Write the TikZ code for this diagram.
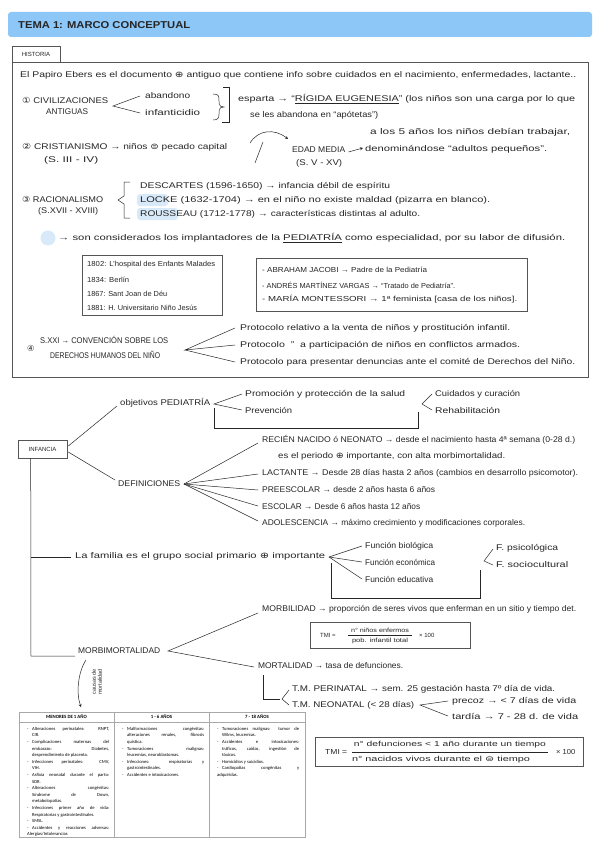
\documentclass[tikz,border=0pt]{standalone}
\usepackage{fontspec}
\usepackage{graphicx}
\setmainfont{Liberation Sans}
\newfontfamily\sym{DejaVu Sans}
\newfontfamily\tabfont{Carlito}
\usetikzlibrary{arrows.meta,calc}
\definecolor{titleblue}{HTML}{8DC7F7}
\definecolor{hl}{HTML}{D8EAFA}
\definecolor{boxgray}{HTML}{555555}
\definecolor{tabgray}{HTML}{A8A8A8}
\definecolor{ink}{HTML}{262626}
\newcommand\hw{\fontsize{8.3}{10}\selectfont}
\newcommand\sm{\fontsize{6}{7}\selectfont}
\newcommand\bxf{\fontsize{7.3}{9}\selectfont}
\newcommand\fw[2]{\resizebox{#1pt}{\height}{#2}}
\newcommand\titem[1]{\par\noindent\hangindent=5pt\hangafter=1\makebox[5pt][l]{-}#1}
\begin{document}
\begin{tikzpicture}[x=1pt,y=-1pt,
  tx/.style={anchor=west,inner sep=0pt,font=\hw,text=ink},
  btx/.style={anchor=west,inner sep=0pt,font=\bxf,text=ink},
  ln/.style={line width=0.5pt,ink},
  bx/.style={draw=boxgray,line width=0.7pt},
  tip/.style={-{Stealth[length=3pt,width=3pt]}},
  tcol/.style={anchor=north west,inner sep=0pt,text width=82pt,align=justify,
    font=\tabfont\fontsize{4.6}{6.6}\selectfont},
  thead/.style={inner sep=0pt,font=\tabfont\bfseries\fontsize{4.8}{5}\selectfont},
]
\useasboundingbox (0,0) rectangle (599,848);
\fill[white] (0,0) rectangle (599,848);

% ---------- title ----------
\fill[titleblue, rounded corners=3pt] (8,12) rectangle (592,37);
\node[tx,font=\bfseries\fontsize{10}{12}\selectfont] (title) at (18,25) {\fw{172}{TEMA 1: MARCO CONCEPTUAL}};

% ---------- historia frame ----------
\draw[bx] (12,62) rectangle (588,377);
\node[draw=boxgray,line width=0.7pt,minimum width=48pt,minimum height=16pt,inner sep=0pt,font=\sm,text=ink] (hist) at (36,54) {HISTORIA};

\node[tx] (papiro) at (20,75) {\fw{556}{El Papiro Ebers es el documento {\sym ⊕} antiguo que contiene info sobre cuidados en el nacimiento, enfermedades, lactante..}};

% 1
\node[tx] (civ) at (22,100) {\fw{86}{{\sym ①} CIVILIZACIONES}};
\node[tx] (antig) at (46,112) {\fw{42}{ANTIGUAS}};
\coordinate (v1) at (113,106);
\node[tx] (aband) at (145,96) {\fw{45}{abandono}};
\node[tx] (infan) at (145,113) {\fw{55}{infanticidio}};
\draw[ln] ($(aband.west)+(-5,0)$) -- (v1) -- ($(infan.west)+(-5,0)$);
\draw[ln] (213,94) .. controls (219,94) and (219,96) .. (219,101) -- (219,103)
  .. controls (219,106) and (221,107) .. (224,107)
  .. controls (221,107) and (219,108) .. (219,111) -- (219,114)
  .. controls (219,118) and (218,120) .. (213,120);
\draw[ln] (223,87) -- (229,87) -- (229,122) -- (222,122);
\node[tx] (esparta) at (238,99) {\fw{337}{esparta → ``\underline{RÍGIDA EUGENESIA}'' (los niños son una carga por lo que}};
\node[tx] (seles) at (250,115) {\fw{128}{se les abandona en ``apótetas'')}};

% 2
\node[tx] (crist) at (22,147) {\fw{205}{{\sym ②} CRISTIANISMO → niños {\sym ⊜} pecado capital}};
\node[tx] (s34) at (44,160) {\fw{54}{(S. III - IV)}};
\node[tx] (edad) at (292,150) {\fw{53}{EDAD MEDIA}};
\node[tx] (s5) at (296,163) {\fw{46}{(S. V - XV)}};
\draw[ln,tip] (250,143) .. controls (258,130) and (274,128) .. (288,139);
\draw[ln] (255,163) -- (263,142);
\node[tx] (cinco) at (370,132) {\fw{200}{a los 5 años los niños debían trabajar,}};
\node[tx] (denom) at (365,149) {\fw{182}{denominándose ``adultos pequeños''.}};
\draw[ln,tip] ($(edad.east)+(3,2)$) -- ($(denom.west)+(-2,-1)$);

% 3
\node[tx] (racio) at (22,199) {\fw{81}{{\sym ③} RACIONALISMO}};
\node[tx] (s1718) at (38,211) {\fw{60}{(S.XVII - XVIII)}};
\draw[ln] (130,182) -- (124,182) -- (124,196) -- (118,200) -- (124,204) -- (124,218) -- (130,218);
\fill[hl, rounded corners=3pt] (137,194) rectangle (168,206);
\fill[hl, rounded corners=3pt] (137,208) rectangle (178,220);
\node[tx] (desc) at (140,186) {\fw{250}{DESCARTES (1596-1650) → infancia débil de espíritu}};
\node[tx] (locke) at (140,200) {\fw{350}{LOCKE (1632-1704) → en el niño no existe maldad (pizarra en blanco).}};
\node[tx] (rous) at (140,214) {\fw{280}{ROUSSEAU (1712-1778) → características distintas al adulto.}};
\fill[hl] (48,238) circle (7.5);
\node[tx] (pedi) at (58,238) {\fw{507}{→ son considerados los implantadores de la \underline{PEDIATRÍA} como especialidad, por su labor de difusión.}};

% boxes
\draw[bx] (82,255) rectangle (222,315);
\node[btx] (h1802) at (87,265) {\fw{128}{1802: L'hospital des Enfants Malades}};
\node[btx] (h1834) at (87,280) {\fw{42}{1834: Berlín}};
\node[btx] (h1867) at (87,294) {\fw{80}{1867: Sant Joan de Déu}};
\node[btx] (h1881) at (87,308) {\fw{110}{1881: H. Universitario Niño Jesús}};
\draw[bx] (256,258) rectangle (527,311);
\node[btx] (jacobi) at (262,270) {\fw{165}{- ABRAHAM JACOBI → Padre de la Pediatría}};
\node[btx] (vargas) at (262,285) {\fw{193}{- ANDRÉS MARTÍNEZ VARGAS → ``Tratado de Pediatría''.}};
\node[btx] (monte) at (262,299) {\fw{255}{- MARÍA MONTESSORI → 1ª feminista [casa de los niños].}};

% 4
\node[tx] (c4) at (27,348) {{\sym ④}};
\node[tx] (sxxi) at (40,340) {\fw{128}{S.XXI → CONVENCIÓN SOBRE LOS}};
\node[tx] (derechos) at (50,355) {\fw{110}{DERECHOS HUMANOS DEL NIÑO}};
\coordinate (v4) at (185,350);
\node[tx] (p1) at (240,328) {\fw{270}{Protocolo relativo a la venta de niños y prostitución infantil.}};
\node[tx] (p2) at (240,345) {\fw{280}{Protocolo \ '' \ a participación de niños en conflictos armados.}};
\node[tx] (p3) at (240,362) {\fw{335}{Protocolo para presentar denuncias ante el comité de Derechos del Niño.}};
\draw[ln] ($(p1.west)+(-5,0)$) -- (v4) -- ($(p2.west)+(-5,0)$);
\draw[ln] (v4) -- ($(p3.west)+(-5,0)$);

% ---------- infancia ----------
\node[draw=boxgray,line width=0.6pt,minimum width=49pt,minimum height=18pt,inner sep=0pt,font=\sm,text=ink] (inf) at (42.5,449) {INFANCIA};

\node[tx] (objp) at (120,403) {\fw{90}{objetivos PEDIATRÍA}};
\draw[ln] ($(inf.east)+(1,-3)$) -- ($(objp.west)+(-3,3)$);
\coordinate (v5) at (214,404);
\node[tx] (promo) at (245,394) {\fw{160}{Promoción y protección de la salud}};
\node[tx] (prev) at (245,410) {\fw{47}{Prevención}};
\draw[ln] ($(promo.west)+(-3,0)$) -- (v5) -- ($(prev.west)+(-3,0)$);
\draw[ln] ($(v5)+(0,4)$) -- (214,428) -- (418,428) -- (418,412);
\coordinate (v6) at (422,404);
\node[tx] (cuid) at (435,394) {\fw{85}{Cuidados y curación}};
\node[tx] (rehab) at (435,410) {\fw{65}{Rehabilitación}};
\draw[ln] ($(cuid.west)+(-3,0)$) -- (v6) -- ($(rehab.west)+(-3,0)$);

\node[tx] (defs) at (118,484) {\fw{62}{DEFINICIONES}};
\draw[ln] ($(inf.east)+(1,3)$) -- ($(defs.west)+(-3,-4)$);
\coordinate (v7) at (184,484);
\node[tx] (rn) at (262,440) {\fw{313}{RECIÉN NACIDO ó NEONATO → desde el nacimiento hasta 4ª semana (0-28 d.)}};
\node[tx] (peri) at (278,456) {\fw{227}{es el periodo {\sym ⊕} importante, con alta morbimortalidad.}};
\node[tx] (lact) at (262,473) {\fw{316}{LACTANTE → Desde 28 días hasta 2 años (cambios en desarrollo psicomotor).}};
\node[tx] (prees) at (262,490) {\fw{173}{PREESCOLAR → desde 2 años hasta 6 años}};
\node[tx] (esco) at (262,507) {\fw{158}{ESCOLAR → Desde 6 años hasta 12 años}};
\node[tx] (adol) at (262,523) {\fw{263}{ADOLESCENCIA → máximo crecimiento y modificaciones corporales.}};
\draw[ln] (v7) -- ($(rn.west)+(-4,3)$);
\draw[ln] (v7) -- ($(lact.west)+(-4,1)$);
\draw[ln] (v7) -- ($(prees.west)+(-4,0)$);
\draw[ln] (v7) -- ($(esco.west)+(-4,-1)$);
\draw[ln] (v7) -- ($(adol.west)+(-4,-2)$);

% main spine
\coordinate (spine) at ($(inf.south west)+(13,0)$);
\coordinate (famj) at (31,557);
\coordinate (mmj) at (31,656);
\draw[ln] (spine) -- (mmj) -- (75,656);
\node[tx] (fam) at (75,556) {\fw{250}{La familia es el grupo social primario {\sym ⊕} importante}};
\draw[ln] (famj) -- ($(fam.west)+(-4,1)$);
\coordinate (v8) at (329,557);
\node[tx] (fbio) at (365,546) {\fw{68}{Función biológica}};
\node[tx] (feco) at (365,562) {\fw{70}{Función económica}};
\node[tx] (fedu) at (365,579) {\fw{68}{Función educativa}};
\draw[ln] (v8) -- ($(fbio.west)+(-3,0)$);
\draw[ln] (v8) -- ($(feco.west)+(-3,0)$);
\draw[ln] (v8) -- ($(fedu.west)+(-3,0)$);
\draw[ln] (331,563) -- (331,598) -- (480,598) -- (480,570);
\coordinate (v9) at (484,561);
\node[tx] (fpsi) at (496,548) {\fw{62}{F. psicológica}};
\node[tx] (fsoc) at (496,565) {\fw{72}{F. sociocultural}};
\draw[ln] ($(fpsi.west)+(-3,1)$) -- (v9) -- ($(fsoc.west)+(-3,0)$);

% morbimortalidad
\node[tx] (morbimort) at (78,651) {\fw{82}{MORBIMORTALIDAD}};
\coordinate (v10) at (168,651);
\node[tx] (morbil) at (262,609) {\fw{314}{MORBILIDAD → proporción de seres vivos que enferman en un sitio y tiempo det.}};
\node[tx] (mort) at (258,666) {\fw{145}{MORTALIDAD → tasa de defunciones.}};
\draw[ln] ($(morbil.west)+(-4,4)$) -- (v10) -- ($(mort.west)+(-4,1)$);

\node[draw=boxgray,line width=0.7pt,minimum width=160pt,minimum height=26pt,inner sep=0pt] (tmi1) at (390,635) {};
\node[btx,font=\sm] (tmi1a) at (320,635) {TMI =};
\node[inner sep=0pt,font=\sm,text=ink] (tmi1n) at (380,630) {\fw{58}{n° niños enfermos}};
\node[inner sep=0pt,font=\sm,text=ink] (tmi1d) at (380,641) {\fw{56}{pob. infantil total}};
\draw[line width=0.4pt,ink] (348,635.5) -- (412,635.5);
\node[btx,font=\sm] (tmi1x) at (419,635) {× 100};

\draw[ln] (263,675) -- (263,699) -- (280,699);
\coordinate (v11) at (282,699);
\node[tx] (tmp) at (292,689) {\fw{263}{T.M. PERINATAL → sem. 25 gestación hasta 7º día de vida.}};
\node[tx] (tmn) at (292,705) {\fw{122}{T.M. NEONATAL (< 28 días)}};
\draw[ln] ($(tmp.west)+(-3,1)$) -- (v11) -- ($(tmn.west)+(-3,0)$);
\coordinate (v12) at (420,705);
\node[tx] (prec) at (452,701) {\fw{124}{precoz → < 7 días de vida}};
\node[tx] (tard) at (452,716) {\fw{126}{tardía → 7 - 28 d. de vida}};
\draw[ln] ($(prec.west)+(-4,0)$) -- (v12) -- ($(tard.west)+(-4,0)$);

% causas de mortalidad
\node[rotate=90,align=center,inner sep=0pt,font=\fontsize{5.5}{6}\selectfont,text=ink] (causas) at (97,682) {causas de\\mortalidad};
\draw[ln,tip] (86,660) .. controls (78,672) and (76,693) .. (81,707);

% table
\draw[tabgray,line width=0.6pt] (19,712) rectangle (305,837);
\draw[tabgray,line width=0.6pt] (19,722) -- (305,722);
\draw[tabgray,line width=0.6pt] (114,712) -- (114,837);
\draw[tabgray,line width=0.6pt] (209,712) -- (209,837);
\node[thead] (th1) at (66.5,717) {MENORES DE 1 AÑO};
\node[thead] (th2) at (161.5,717) {1 - 6 AÑOS};
\node[thead] (th3) at (257,717) {7 - 18 AÑOS};
\node[tcol] (col1) at (27,723.5) {%
\titem{Alteraciones perinatales: RNPT,\linebreak CIR.}
\titem{Complicaciones maternas del\linebreak embarazo: Diabetes,\linebreak desprendimiento de placenta.}
\titem{Infecciones perinatales: CMV,\linebreak VIH.}
\titem{Asfixia neonatal durante el parto:\linebreak SDR.}
\titem{Alteraciones congénitas:\linebreak Síndrome de Down,\linebreak metabolopatías.}
\titem{Infecciones primer año de vida:\linebreak Respiratorias y gastrointestinales.}
\titem{SMSL.}
\titem{Accidentes y reacciones adversas:\linebreak Alergias/Intolerancias}};
\node[tcol] (col2) at (122,723.5) {%
\titem{Malformaciones congénitas:\linebreak alteraciones renales, fibrosis\linebreak quística.}
\titem{Tumoraciones malignas:\linebreak leucemias, neuroblastomas.}
\titem{Infecciones: respiratorias y\linebreak gastrointestinales.}
\titem{Accidentes e intoxicaciones.}};
\node[tcol] (col3) at (217,723.5) {%
\titem{Tumoraciones malignas: tumor de\linebreak Wilms, leucemias.}
\titem{Accidentes e intoxicaciones:\linebreak tráficos, caídas, ingestión de\linebreak tóxicos.}
\titem{Homicidios y suicidios.}
\titem{Cardiopatías congénitas y\linebreak adquiridas.}};

% TMI box 2
\node[draw=boxgray,line width=0.7pt,minimum width=268pt,minimum height=29pt,inner sep=0pt] (tmi2) at (449,752) {};
\node[btx] (tmi2a) at (325,752) {\fw{22}{TMI =}};
\node[inner sep=0pt,font=\bxf,text=ink] (tmi2n) at (450,745) {\fw{192}{n° defunciones < 1 año durante un tiempo}};
\node[inner sep=0pt,font=\bxf,text=ink] (tmi2d) at (441,759.5) {\fw{178}{n° nacidos vivos durante el {\sym ⊜} tiempo}};
\draw[line width=0.5pt,ink] (352,752) -- (548,752);
\node[btx] (tmi2x) at (556,752) {\fw{19}{× 100}};
\end{tikzpicture}
\end{document}
